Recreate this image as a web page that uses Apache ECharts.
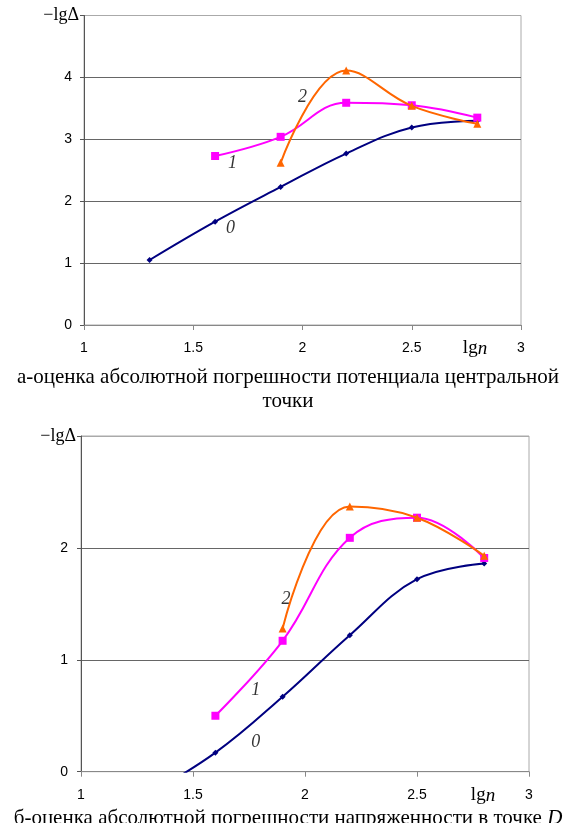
<!DOCTYPE html>
<html>
<head>
<meta charset="utf-8">
<script src="https://cdn.jsdelivr.net/npm/echarts@6/dist/echarts.min.js"></script>
<style>
  html, body { margin: 0; padding: 0; background: #fff; }
  #chart { width: 567px; height: 823px; }
</style>
</head>
<body>
<div id="chart"></div>
<script>
// lg n values (x axis)
const lgN = [1.3, 1.6, 1.9, 2.2, 2.5, 2.8];
// а - потенциал центральной точки
const topCurve0 = [1.05, 1.67, 2.23, 2.77, 3.19, 3.30];
const topCurve1 = [null, 2.73, 3.04, 3.59, 3.55, 3.35];
const topCurve2 = [null, null, 2.62, 4.11, 3.54, 3.25];
// б - напряженность в точке D
const botCurve0 = [-0.20, 0.17, 0.67, 1.22, 1.72, 1.86];
const botCurve1 = [null, 0.50, 1.17, 2.09, 2.27, 1.91];
const botCurve2 = [null, null, 1.28, 2.37, 2.27, 1.93];
// curve numbers written next to the lines (x, y, text)
const topNotes = [[1.67, 1.56, '0'], [1.68, 2.61, '1'], [2.0, 3.68, '2']];
const botNotes = [[1.78, 0.26, '0'], [1.78, 0.73, '1'], [1.915, 1.54, '2']];
const xTicks = [1, 1.5, 2, 2.5, 3];
const topYMax = 5;
const botYMax = 3;

const SERIF = '"Liberation Serif", "DejaVu Serif", serif';
const SANS = '"Liberation Sans", Arial, sans-serif';
const colors = ['#000080', '#ff00ff', '#ff6600'];
const symbols = ['diamond', 'rect', 'triangle'];
const symSizes = [6, 8, 8];

function pairs(ys) {
  const out = [];
  ys.forEach((y, i) => { if (y !== null) out.push([lgN[i], y]); });
  return out;
}

function curves(list, idx) {
  return list.map((ys, k) => ({
    type: 'line',
    xAxisIndex: idx,
    yAxisIndex: idx,
    data: pairs(ys),
    smooth: 0.4,
    symbol: symbols[k],
    symbolSize: symSizes[k],
    showSymbol: true,
    lineStyle: {color: colors[k], width: 2},
    itemStyle: {color: colors[k]},
    clip: true,
    z: 3 + k
  }));
}

function notes(list, idx) {
  return {
    type: 'scatter',
    xAxisIndex: idx,
    yAxisIndex: idx,
    symbolSize: 0,
    data: list.map(n => ({value: [n[0], n[1]], name: n[2]})),
    label: {
      show: true,
      position: 'inside',
      formatter: p => p.name,
      fontFamily: SERIF,
      fontStyle: 'italic',
      fontSize: 18,
      color: '#000'
    },
    silent: true,
    z: 10
  };
}

function xAxis(idx) {
  return {
    type: 'value',
    gridIndex: idx,
    min: 1, max: 3, interval: 0.5,
    axisLine: {show: true, lineStyle: {color: '#888', width: 1}},
    axisTick: {show: true, inside: false, length: 5, lineStyle: {color: '#888'}},
    axisLabel: {color: '#000', fontFamily: SANS, fontSize: 14, margin: 16,
      formatter: v => xTicks.indexOf(v) >= 0 ? String(v) : ''},
    splitLine: {show: false}
  };
}

function yAxis(idx, max, numPad) {
  const lines = [];
  for (let i = 0; i <= max; i++) lines.push(i === max ? '#aaaaaa' : '#666666');
  return {
    type: 'value',
    gridIndex: idx,
    min: 0, max: max, interval: 1,
    axisLine: {show: true, lineStyle: {color: '#555', width: 1}},
    axisTick: {show: true, length: 4, lineStyle: {color: '#555'}},
    axisLabel: {
      margin: 5,
      formatter: v => v === max ? '{t|−lgΔ}' : '{n|' + v + '}',
      rich: {
        t: {fontFamily: SERIF, fontSize: 18, color: '#000'},
        n: {fontFamily: SANS, fontSize: 14, color: '#000', padding: [0, numPad, 0, 0]}
      }
    },
    splitLine: {show: true, lineStyle: {color: lines, width: 1}}
  };
}

const chart = echarts.init(document.getElementById('chart'), null, {renderer: 'canvas'});
chart.setOption({
  animation: false,
  backgroundColor: '#fff',
  grid: [
    {left: 84, top: 15.5, width: 437, height: 309.5, show: true, borderColor: '#aaa', borderWidth: 1, backgroundColor: 'transparent'},
    {left: 81, top: 436, width: 448, height: 335.7, show: true, borderColor: '#aaa', borderWidth: 1, backgroundColor: 'transparent'}
  ],
  title: [
    {
      text: 'а-оценка абсолютной погрешности потенциала центральной\nточки',
      left: 283, top: 360, textAlign: 'center',
      textStyle: {fontFamily: SERIF, fontSize: 21, fontWeight: 'normal', color: '#000', lineHeight: 24}
    },
    {
      text: 'б-оценка абсолютной погрешности напряженности в точке {i|D}',
      left: 283, top: 803, textAlign: 'center',
      textStyle: {fontFamily: SERIF, fontSize: 21, fontWeight: 'normal', color: '#000',
        rich: {i: {fontFamily: SERIF, fontSize: 21, fontStyle: 'italic', color: '#000'}}}
    },
    {
      text: 'lg{i|n}', left: 470, top: 334, textAlign: 'center',
      textStyle: {fontFamily: SERIF, fontSize: 19, fontWeight: 'normal', color: '#000',
        rich: {i: {fontFamily: SERIF, fontSize: 19, fontStyle: 'italic', color: '#000'}}}
    },
    {
      text: 'lg{i|n}', left: 478, top: 781, textAlign: 'center',
      textStyle: {fontFamily: SERIF, fontSize: 19, fontWeight: 'normal', color: '#000',
        rich: {i: {fontFamily: SERIF, fontSize: 19, fontStyle: 'italic', color: '#000'}}}
    }
  ],
  xAxis: [xAxis(0), xAxis(1)],
  yAxis: [yAxis(0, topYMax, 7), yAxis(1, botYMax, 8)],
  series: [].concat(
    curves([topCurve0, topCurve1, topCurve2], 0),
    curves([botCurve0, botCurve1, botCurve2], 1),
    [notes(topNotes, 0), notes(botNotes, 1)]
  )
});
</script>
</body>
</html>
